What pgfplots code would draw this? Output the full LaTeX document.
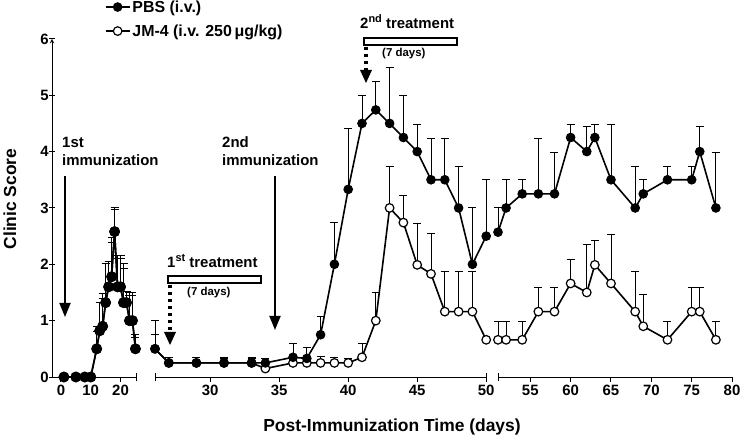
\documentclass[border=0pt]{standalone}
\usepackage{pgfplots}
\pgfplotsset{compat=1.18}
\usepackage{pgfplotstable}
\usepackage{fontspec}
\setmainfont{Liberation Sans}
\usetikzlibrary{arrows.meta}

% days 0-25 (both groups were still together)
\pgfplotstableread{
x y e
1 0 0
5 0 0
8 0 0
10 0 0
12 0.5 0.4
13 0.82 0.5
14 0.9 0.58
15 1.32 0.7
16 1.6 0.45
17 1.78 0.7
18 2.58 0.42
19 1.6 0.55
20 1.6 0.55
21 1.32 0.7
22 1.32 0.2
23 1.0 0.5
24 1.0 0.5
25 0.5 0.25
}\pbsA
\pgfplotstableread{
x y e
1 0 0
5 0 0
8 0 0
10 0 0
12 0.5 0.3
13 0.82 0.5
14 0.9 0.5
15 1.32 0.7
16 1.6 0.45
17 1.78 0.6
18 2.58 0.4
19 1.6 0.5
20 1.6 0.5
21 1.32 0.6
22 1.32 0.2
23 1.0 0.45
24 1.0 0.45
25 0.5 0.2
}\jmA
% days 26-50
\pgfplotstableread{
x y e
26 0.5 0.5
27 0.25 0.1
29 0.25 0.1
31 0.25 0.08
33 0.25 0.08
34 0.25 0.08
36 0.35 0.25
37 0.33 0.2
38 0.75 0.32
39 2.0 0.74
40 3.33 1.08
41 4.5 0.49
42 4.74 0.51
43 4.5 0.99
44 4.25 0.74
45 4.0 0.49
46 3.5 0.74
47 3.5 0.74
48 3.0 0.74
49 2.0 1.0
50 2.5 1.0
}\pbsB
\pgfplotstableread{
x y e
26 0.5 0.25
27 0.25 0.1
29 0.25 0.1
31 0.25 0.1
33 0.25 0.1
34 0.15 0.18
36 0.25 0.12
37 0.25 0.1
38 0.25 0.12
39 0.25 0.1
40 0.25 0.08
41 0.35 0.25
42 1.0 0.5
43 3.0 0.73
44 2.74 0.49
45 1.99 0.73
46 1.83 0.72
47 1.16 0.72
48 1.16 0.72
49 1.16 0.72
50 0.66 0
}\jmB
% days 51-80
\pgfplotstableread{
x y e
51 2.57 0.43
52 3.0 0.5
54 3.25 0.25
56 3.25 0.99
58 3.25 0.74
60 4.25 0.24
62 4.0 0.45
63 4.25 0.24
65 3.5 0.99
68 3.0 0.73
69 3.25 0.25
72 3.5 0.23
75 3.5 0.23
76 4.0 0.44
78 3.0 0.99
}\pbsC
\pgfplotstableread{
x y e
51 0.66 0.32
52 0.66 0.32
54 0.66 0.32
56 1.16 0.43
58 1.16 0.43
60 1.66 0.43
62 1.5 0.86
63 1.99 0.43
65 1.66 0.87
68 1.16 0.71
69 0.9 0.57
72 0.66 0.32
75 1.16 0.43
76 1.16 0.43
78 0.66 0.32
}\jmC

\pgfplotsset{
  seg/.style={
    y=56.35bp, ymin=0, ymax=6,
    anchor=south west, clip=false,
    axis x line=bottom,
    x axis line style={-}, y axis line style={-},
    axis line style={line width=1bp},
    tick style={black, line width=1bp},
    major tick length=5bp,
    tick align=outside,
    ticklabel style={font=\fontsize{15}{15}\selectfont\bfseries},
    /pgf/number format/assume math mode=true,
    extra x tick labels={},
    extra x tick style={tick align=center, major tick length=8bp},
  },
  ebar/.style={
    error bars/y dir=plus, error bars/y explicit,
    error bars/error mark=-,
    error bars/error bar style={line width=0.9bp, black},
    error bars/error mark options={rotate=90, mark size=4bp, line width=0.9bp, black}},
  pbs/.style={black, line width=1.6bp, mark=*, mark size=4.3bp,
    mark options={solid, fill=black, line width=1bp}, ebar},
  jm/.style={black, line width=1.6bp, mark=*, mark size=4.3bp,
    mark options={solid, fill=white, line width=1.2bp}, ebar},
}

\begin{document}
\begin{tikzpicture}
\useasboundingbox (0,0) rectangle (742bp,441bp);

\begin{axis}[seg, at={(52bp,64bp)}, x=2.98bp, xmin=-3, xmax=25.5,
    axis y line=left, ytick={0,1,...,6},
    xtick={0,10,20}, extra x ticks={25.5},
    yticklabel style={inner xsep=0.5bp},
    legend style={at={(axis description cs:0.62,1.12)}, anchor=north west,
      draw=none, fill=none, inner sep=0pt, row sep=7bp,
      font=\fontsize{16}{16}\selectfont\bfseries},
    legend cell align=left,
    legend image code/.code={\draw[mark repeat=2,mark phase=2] plot coordinates {(0bp,0bp) (12bp,0bp) (24bp,0bp)};}]
\addlegendimage{black, line width=1.6bp, mark=*, mark size=4.3bp, mark options={solid, fill=black, line width=1bp}}
\addlegendentry{PBS (i.v.)}
\addlegendimage{black, line width=1.6bp, mark=*, mark size=4.3bp, mark options={solid, fill=white, line width=1.2bp}}
\addlegendentry{JM-4 (i.v. 250\,μg/kg)}
\addplot[jm, mark size=4.8bp, forget plot] table[x=x, y=y, y error=e] {\jmA};
\addplot[pbs, mark size=4.8bp, forget plot] table[x=x, y=y, y error=e] {\pbsA};
\end{axis}

\begin{axis}[seg, at={(155bp,64bp)}, x=13.8bp, xmin=26, xmax=50,
    axis y line=none, ytick=\empty,
    xtick={30,35,40,45,50}, extra x ticks={26,50}]
\addplot[jm] table[x=x, y=y, y error=e] {\jmB};
\addplot[pbs] table[x=x, y=y, y error=e] {\pbsB};
\end{axis}

\begin{axis}[seg, at={(498bp,64bp)}, x=8.07bp, xmin=51, xmax=80,
    axis y line=none, ytick=\empty,
    xtick={55,60,...,80}, extra x ticks={51}]
\addplot[jm] table[x=x, y=y, y error=e] {\jmC};
\addplot[pbs] table[x=x, y=y, y error=e] {\pbsC};
\end{axis}

% annotations, in pixel coordinates of the reference
\begin{scope}[x=1bp, y=-1bp, yshift=441bp, font=\fontsize{15}{15}\selectfont\bfseries]
  \node[rotate=90, font=\fontsize{17.5}{17.5}\selectfont\bfseries] at (10,199) {Clinic Score};
  \node[anchor=base, inner sep=0, font=\fontsize{17.5}{17.5}\selectfont\bfseries] at (392,432) {Post-Immunization Time (days)};

  \node[anchor=base west, inner sep=0] at (62,148) {1st};
  \node[anchor=base west, inner sep=0] at (62,166) {immunization};
  \draw[line width=1.8bp, -{Triangle[width=11bp,length=14bp]}] (65,176) -- (65,317);

  \node[anchor=base west, inner sep=0] at (222,148) {2nd};
  \node[anchor=base west, inner sep=0] at (222,166) {immunization};
  \draw[line width=1.8bp, -{Triangle[width=11bp,length=14bp]}] (275,176) -- (275,330);

  \node[anchor=base west, inner sep=0] at (167,268) {1\raisebox{6bp}{\fontsize{11}{11}\selectfont st} treatment};
  \draw[line width=1.2bp, fill=white] (168,276) rectangle (261,283);
  \node[anchor=west, inner sep=0, font=\fontsize{11.5}{11.5}\selectfont\bfseries] at (187,293) {(7 days)};
  \draw[line width=3.5bp, dash pattern=on 3bp off 4bp] (170,285) -- (170,333);
  \fill (164,332) -- (176,332) -- (170,345) -- cycle;

  \node[anchor=base west, inner sep=0] at (360,29) {2\raisebox{6bp}{\fontsize{11}{11}\selectfont nd} treatment};
  \draw[line width=1.2bp, fill=white] (364,38) rectangle (457,45);
  \node[anchor=west, inner sep=0, font=\fontsize{11.5}{11.5}\selectfont\bfseries] at (382,54) {(7 days)};
  \draw[line width=3.5bp, dash pattern=on 3bp off 4bp] (366,47) -- (366,71);
  \fill (360,70) -- (372,70) -- (366,83) -- cycle;
\end{scope}
\end{tikzpicture}
\end{document}
